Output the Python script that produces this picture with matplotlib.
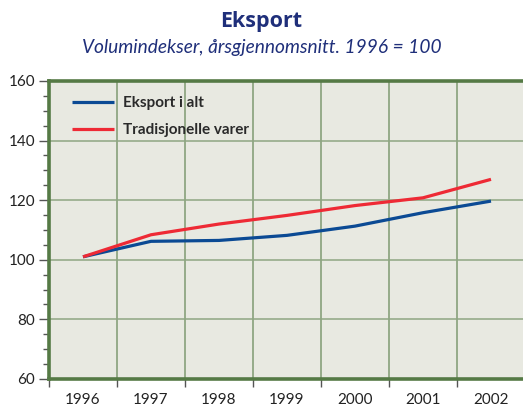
import matplotlib.pyplot as plt
from matplotlib.ticker import MultipleLocator
import numpy as np

plt.rcParams['font.family'] = ['Lato', 'DejaVu Sans']

years = ['1996', '1997', '1998', '1999', '2000', '2001', '2002']
eksport_i_alt = [101.0, 106.2, 106.5, 108.2, 111.3, 115.8, 119.7]
tradisjonelle = [101.0, 108.4, 112.0, 114.9, 118.2, 120.8, 127.0]

NAVY = '#1f2f7a'
BLUE = '#0b4a94'
RED = '#ee2a35'
GRID = '#8fa682'
SPINE = '#557a45'
BG = '#e8e9e1'

fig = plt.figure(figsize=(5.23, 4.07), dpi=100, facecolor='white')
ax = fig.add_axes([49 / 523, 28 / 407, 476 / 523, 298 / 407])
ax.set_facecolor(BG)

x = np.arange(len(years))
ax.plot(x, eksport_i_alt, color=BLUE, lw=2.3, label='Eksport i alt',
        solid_capstyle='butt', zorder=3)
ax.plot(x, tradisjonelle, color=RED, lw=2.3, label='Tradisjonelle varer',
        solid_capstyle='butt', zorder=3)

ax.set_xlim(-0.5, len(years) - 0.5)
ax.set_ylim(60, 160)

# year labels centred in bands, ticks on the band edges
ax.set_xticks(x)
ax.set_xticklabels(years, fontsize=11, color='#222222')
ax.set_xticks(np.arange(-0.5, len(years)), minor=True)
ax.tick_params(axis='x', which='major', length=0, pad=10)
ax.tick_params(axis='x', which='minor', length=6, width=1, color='#555555')

ax.yaxis.set_major_locator(MultipleLocator(20))
ax.yaxis.set_minor_locator(MultipleLocator(5))
ax.tick_params(axis='y', which='major', length=7, width=1, color='#555555',
               labelsize=11, labelcolor='#222222', pad=3)
ax.tick_params(axis='y', which='minor', length=4, width=1, color='#555555')

ax.grid(True, axis='y', which='major', color=GRID, lw=1.1, zorder=1)
ax.grid(True, axis='x', which='minor', color=GRID, lw=1.3, zorder=1)
ax.set_axisbelow(True)

for side in ['left', 'bottom', 'top']:
    ax.spines[side].set_color(SPINE)
    ax.spines[side].set_linewidth(2.6)
ax.spines['right'].set_visible(False)

leg = ax.legend(loc='upper left', bbox_to_anchor=(0.02, 0.995), frameon=False,
                handlelength=2.7, handletextpad=0.6, labelspacing=0.85,
                prop={'weight': 'bold', 'size': 11})
for t in leg.get_texts():
    t.set_color('#2a2a2a')

fig.text(0.5, 1 - 22 / 407, 'Eksport', ha='center', va='center',
         fontsize=15.5, fontweight='bold', color=NAVY,
         family=['Open Sans', 'DejaVu Sans'])
fig.text(0.5, 1 - 48 / 407, 'Volumindekser, årsgjennomsnitt. 1996 = 100',
         ha='center', va='center', fontsize=13.8, style='italic', color=NAVY)

plt.savefig('out.png', dpi=100, facecolor=fig.get_facecolor())
plt.close()
